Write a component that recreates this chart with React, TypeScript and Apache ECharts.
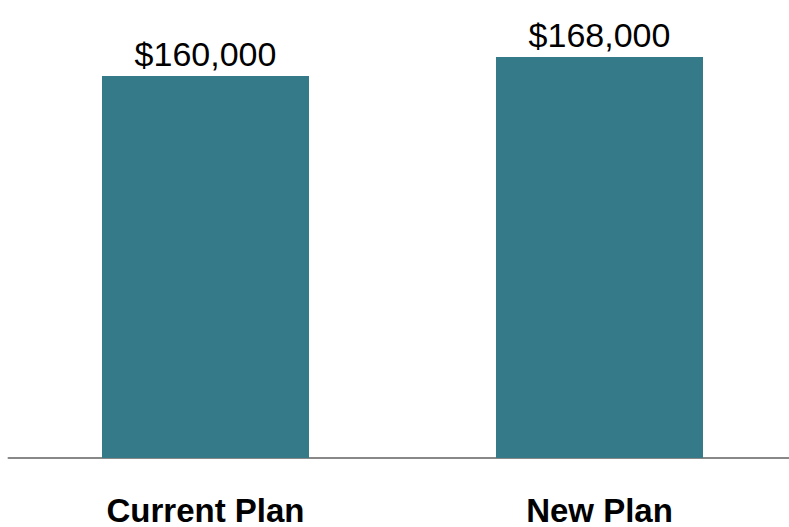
import React, { useEffect, useRef } from "react";
import * as echarts from "echarts";

const categories = ["Current Plan", "New Plan"];
const values = [160000, 168000];

const fmt = (v: number) => "$" + v.toLocaleString("en-US");

export default function App() {
  const ref = useRef<HTMLDivElement>(null);
  useEffect(() => {
    if (!ref.current) return;
    const chart = echarts.init(ref.current, undefined, { renderer: "svg" });
    chart.setOption({
      animation: false,
      backgroundColor: "#ffffff",
      grid: {
        left: 8.5,
        top: 0,
        width: 788,
        height: 458,
        containLabel: false,
        outerBoundsMode: "none",
      },
      xAxis: {
        type: "category",
        data: categories,
        axisLine: { show: true, lineStyle: { color: "#888888", width: 2 } },
        axisTick: { show: false },
        axisLabel: {
          margin: 36,
          fontFamily: "Liberation Sans, Arial, sans-serif",
          fontWeight: "bold",
          fontSize: 33,
          color: "#000000",
        },
      },
      yAxis: {
        type: "value",
        min: 0,
        max: 191830,
        show: false,
        splitLine: { show: false },
      },
      series: [
        {
          type: "bar",
          data: values,
          barWidth: 207,
          itemStyle: { color: "#347a89" },
          label: {
            show: true,
            position: "top",
            distance: 5,
            formatter: (p: any) => fmt(p.value),
            fontFamily: "Liberation Sans, Arial, sans-serif",
            fontSize: 34,
            color: "#000000",
          },
        },
      ],
    });
    return () => chart.dispose();
  }, []);
  return (
    <div
      ref={ref}
      style={{ position: "absolute", left: 0, top: 0, width: 789, height: 527 }}
    />
  );
}
